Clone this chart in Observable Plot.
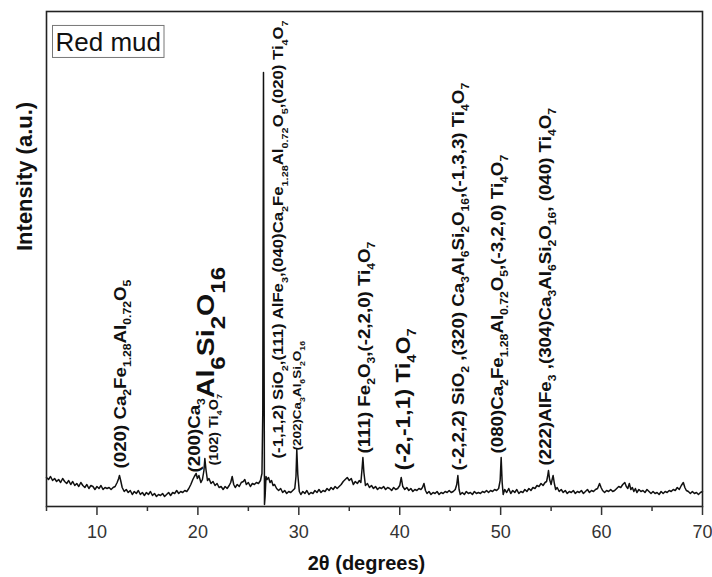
<!DOCTYPE html>
<html>
<head>
<meta charset="utf-8">
<script src="https://cdn.jsdelivr.net/npm/d3@7"></script>
<script src="https://cdn.jsdelivr.net/npm/@observablehq/plot@0.6"></script>
<style>
  html, body { margin: 0; padding: 0; background: #fff; }
  #chart { width: 712px; height: 577px; }
</style>
</head>
<body>
<div id="chart"></div>
<script>
// XRD scan of red mud: [2θ (degrees), intensity (arbitrary counts)]
const scan = [
  [5.0,29],[5.2,27],[5.4,30],[5.6,26],[5.8,28],[6.0,25],[6.2,27],[6.4,24],[6.6,28],[6.8,25],
  [7.0,23],[7.2,26],[7.4,22],[7.6,25],[7.8,21],[8.0,23],[8.2,20],[8.4,24],[8.6,21],[8.8,19],
  [9.0,22],[9.2,18],[9.4,21],[9.6,20],[9.8,17],[10.0,20],[10.2,18],[10.4,21],[10.6,17],[10.8,19],
  [11.0,18],[11.2,19],[11.4,17],[11.6,19],[11.8,20],[12.0,24],[12.15,28],[12.23,31],[12.35,26],[12.5,19],
  [12.7,15],[12.9,17],[13.1,14],[13.3,16],[13.5,12],[13.7,15],[13.9,13],[14.1,16],[14.3,12],[14.5,14],
  [14.7,11],[14.9,14],[15.1,12],[15.3,15],[15.5,11],[15.7,13],[15.9,10],[16.1,12],[16.3,11],[16.5,13],
  [16.7,10],[16.9,12],[17.1,14],[17.3,11],[17.5,14],[17.7,13],[17.9,16],[18.1,13],[18.3,15],[18.5,14],
  [18.7,16],[18.9,15],[19.1,18],[19.3,22],[19.5,27],[19.65,30],[19.83,33],[19.95,28],[20.1,31],[20.3,24],
  [20.45,27],[20.6,36],[20.69,48],[20.8,37],[20.95,26],[21.1,28],[21.3,23],[21.5,25],[21.7,21],[21.9,23],
  [22.1,19],[22.3,20],[22.5,17],[22.7,20],[22.9,18],[23.1,21],[23.25,24],[23.4,30],[23.55,22],[23.7,19],
  [23.9,22],[24.1,20],[24.3,24],[24.5,25],[24.65,27],[24.8,22],[25.0,24],[25.2,20],[25.4,23],[25.6,22],
  [25.8,24],[26.0,23],[26.2,26],[26.35,33],[26.43,95],[26.5,434],[26.56,150],[26.6,2],[26.66,10],[26.75,30],
  [26.85,27],[27.0,29],[27.15,24],[27.3,26],[27.45,21],[27.6,22],[27.8,18],[28.0,16],[28.2,18],[28.4,14],
  [28.6,16],[28.8,13],[29.0,15],[29.2,14],[29.4,16],[29.6,18],[29.72,30],[29.8,57],[29.9,32],[30.05,15],
  [30.2,12],[30.4,15],[30.6,13],[30.8,16],[31.0,12],[31.2,14],[31.4,13],[31.6,16],[31.8,14],[32.0,17],
  [32.2,14],[32.4,16],[32.6,15],[32.8,18],[33.0,16],[33.2,19],[33.4,17],[33.6,20],[33.8,18],[34.0,20],
  [34.2,22],[34.4,25],[34.6,27],[34.8,29],[35.0,26],[35.2,28],[35.4,22],[35.6,25],[35.8,23],[36.0,26],
  [36.15,24],[36.27,38],[36.35,49],[36.45,34],[36.6,21],[36.8,23],[37.0,19],[37.2,21],[37.4,18],[37.6,20],
  [37.8,17],[38.0,19],[38.2,18],[38.4,20],[38.6,17],[38.8,19],[39.0,18],[39.2,16],[39.4,19],[39.6,17],
  [39.8,18],[40.0,21],[40.15,29],[40.3,20],[40.5,17],[40.7,19],[40.9,16],[41.1,18],[41.3,15],[41.5,17],
  [41.7,16],[41.9,18],[42.1,17],[42.25,19],[42.4,23],[42.55,16],[42.7,13],[42.9,15],[43.1,12],[43.3,14],
  [43.5,13],[43.7,15],[43.9,12],[44.1,14],[44.3,13],[44.5,15],[44.7,14],[44.9,16],[45.1,14],[45.3,15],
  [45.5,17],[45.65,22],[45.76,31],[45.88,17],[46.0,12],[46.2,14],[46.4,12],[46.6,15],[46.8,13],[47.0,14],
  [47.2,12],[47.4,15],[47.6,13],[47.8,14],[48.0,13],[48.2,15],[48.4,14],[48.6,16],[48.8,14],[49.0,16],
  [49.2,15],[49.4,17],[49.6,16],[49.8,18],[49.95,26],[50.05,49],[50.15,24],[50.25,12],[50.4,17],[50.6,14],
  [50.8,18],[51.0,13],[51.2,16],[51.4,14],[51.6,17],[51.8,13],[52.0,15],[52.2,14],[52.4,17],[52.6,15],
  [52.8,18],[53.0,16],[53.2,19],[53.4,18],[53.6,21],[53.8,20],[54.0,23],[54.2,21],[54.4,24],[54.55,25],
  [54.65,30],[54.74,36],[54.85,27],[55.0,22],[55.1,27],[55.2,31],[55.32,23],[55.45,17],[55.6,19],[55.8,15],
  [56.0,17],[56.2,14],[56.4,16],[56.6,13],[56.8,15],[57.0,14],[57.2,16],[57.4,13],[57.6,15],[57.8,14],
  [58.0,16],[58.2,13],[58.4,15],[58.6,17],[58.8,14],[59.0,16],[59.2,15],[59.4,17],[59.6,18],[59.8,23],
  [59.95,19],[60.1,16],[60.3,14],[60.5,16],[60.7,15],[60.9,17],[61.1,15],[61.3,16],[61.5,18],[61.7,20],
  [61.9,19],[62.1,22],[62.3,24],[62.45,20],[62.6,18],[62.75,23],[62.9,17],[63.05,19],[63.2,15],[63.35,18],
  [63.5,14],[63.7,17],[63.9,15],[64.1,16],[64.3,14],[64.5,17],[64.7,15],[64.9,13],[65.1,15],[65.3,13],
  [65.5,14],[65.7,12],[65.9,15],[66.1,13],[66.3,15],[66.5,14],[66.7,16],[66.9,15],[67.1,17],[67.3,16],
  [67.5,19],[67.7,17],[67.9,21],[68.1,24],[68.25,19],[68.4,16],[68.6,15],[68.8,13],[69.0,15],[69.2,13],
  [69.4,14],[69.6,12],[69.8,14],[70.0,15]
];

// Phase assignments: "_n" marks a subscript, "|" drops the rest of the formula
const peakLabels = [
  "(020) Ca_2Fe_1.28Al_0.72O_5",
  "(200)Ca_3|Al_6Si_2O_16",
  "(102) Ti_4O_7",
  "(-1,1,2) SiO_2,(111) AlFe_3,(040)Ca_2Fe_1.28Al_0.72O_5,(020) Ti_4O_7",
  "(202)Ca_3Al_6Si_2O_16",
  "(111) Fe_2O_3,(-2,2,0) Ti_4O_7",
  "(-2,-1,1) Ti_4O_7",
  "(-2,2,2) SiO_2 ,(320) Ca_3Al_6Si_2O_16,(-1,3,3) Ti_4O_7",
  "(080)Ca_2Fe_1.28Al_0.72O_5,(-3,2,0) Ti_4O_7",
  "(222)AlFe_3 ,(304)Ca_3Al_6Si_2O_16, (040) Ti_4O_7"
];
// 2θ at which each assignment is written, and the intensity where it starts
const peakLabelAt   = [12.33, 19.67, 21.65, 27.99, 29.87, 36.51, 40.37, 45.82, 49.69, 54.45];
const peakLabelFrom = [38, 34, 41, 48, 56, 53, 36, 36, 53, 41];

const majorTicks = [10, 20, 30, 40, 50, 60, 70];
const minorTicks = [5, 15, 25, 35, 45, 55, 65];
const sampleName = "Red mud";
const xTitle = "2θ (degrees)";
const yTitle = "Intensity (a.u.)";

const labels = peakLabels.map((text, i) => ({text, x: peakLabelAt[i], y: peakLabelFrom[i]}));

const font = "'Liberation Sans', Arial, Helvetica, sans-serif";

const chart = Plot.plot({
  width: 712,
  height: 577,
  marginLeft: 46,
  marginRight: 10,
  marginTop: 11,
  marginBottom: 71,
  style: {fontFamily: font, background: "#fff", color: "#222"},
  x: {domain: [5, 70]},
  y: {domain: [0, 495], axis: null},
  marks: [
    Plot.line(scan, {x: d => d[0], y: d => d[1], stroke: "#111", strokeWidth: 1.5, strokeLinejoin: "round"}),
    Plot.text(labels, {
      x: "x", y: "y", text: "text",
      rotate: -90, textAnchor: "start", lineAnchor: "middle",
      fontWeight: "bold", fontSize: 16, fill: "#111"
    }),
    Plot.frame({stroke: "#222", strokeWidth: 1.6}),
    Plot.axisX({ticks: majorTicks, tickSize: 9, tickPadding: 10, fontSize: 18, strokeWidth: 1.5, label: null, tickFormat: d => String(d), color: "#333"}),
    Plot.axisX({ticks: minorTicks, tickSize: 5, strokeWidth: 1.5, label: null, tickFormat: () => "", color: "#333"}),
    Plot.text([xTitle], {frameAnchor: "bottom", lineAnchor: "middle", dy: 57, dx: -8, fontSize: 20, fontWeight: "bold", fill: "#111"}),
    Plot.text([yTitle], {frameAnchor: "left", lineAnchor: "middle", rotate: -90, dx: -22, dy: -8, fontSize: 22, fontWeight: "bold", fill: "#111"}),
    Plot.text([sampleName], {frameAnchor: "top-left", textAnchor: "start", lineAnchor: "top", dx: 9, dy: 21, fontSize: 26, fill: "#111"})
  ]
});

document.getElementById("chart").appendChild(chart);

// Rich text: subscripts as tspans; labels slightly stretched along their length
const SVGNS = "http://www.w3.org/2000/svg";
const sizeFor = text =>
  text.startsWith("(-1,1,2)") ? 14.3 :
  text.startsWith("(102)") ? 12.3 :
  text.startsWith("(202)") ? 11.5 :
  text.startsWith("(-2,-1,1)") ? 19.6 : 16;

function richText(el, markup, size) {
  el.textContent = "";
  el.setAttribute("font-size", size);
  let base = 0, cur = 0, scale = 1, subRatio = 0.65, subShift = 0.32;
  for (const part of markup.split(/(_[0-9.]+|\|)/).filter(s => s)) {
    if (part === "|") { base = 14; scale = 1.52; subRatio = 0.85; subShift = 0.72; continue; }
    const isSub = part[0] === "_";
    const fs = size * scale * (isSub ? subRatio : 1);
    const off = base + (isSub ? size * subShift : 0);
    const t = document.createElementNS(SVGNS, "tspan");
    t.setAttribute("font-size", fs.toFixed(2));
    t.setAttribute("dy", (off - cur).toFixed(2));
    t.textContent = isSub ? part.slice(1) : part;
    cur = off;
    el.appendChild(t);
  }
}

const labelSet = new Set(peakLabels);
chart.querySelectorAll("text").forEach(el => {
  const s = el.textContent;
  if (!labelSet.has(s)) return;
  richText(el, s, sizeFor(s));
  const tr = el.getAttribute("transform") || "";
  el.setAttribute("transform", tr + " scale(1.17,1)");
});

// Framed sample name
chart.querySelectorAll("text").forEach(el => {
  if (el.textContent !== sampleName) return;
  const b = el.getBBox();
  const ctm = el.getAttribute("transform");
  const r = document.createElementNS(SVGNS, "rect");
  r.setAttribute("x", b.x - 3);
  r.setAttribute("y", b.y - 1.5);
  r.setAttribute("width", b.width + 6);
  r.setAttribute("height", b.height + 2);
  r.setAttribute("fill", "none");
  r.setAttribute("stroke", "#777");
  r.setAttribute("stroke-width", 1);
  if (ctm) r.setAttribute("transform", ctm);
  el.parentNode.insertBefore(r, el);
});
</script>
</body>
</html>
